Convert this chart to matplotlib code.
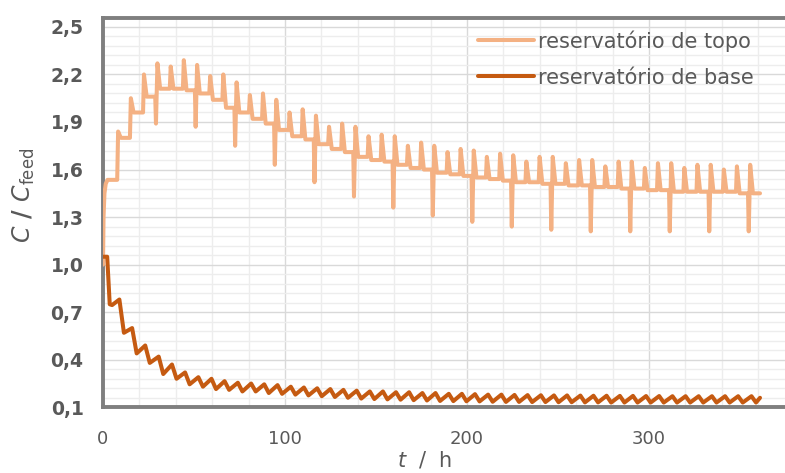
import matplotlib
matplotlib.use("Agg")
import matplotlib.pyplot as plt
from matplotlib.ticker import MultipleLocator, FixedLocator
import numpy as np

# ---------------- data ----------------
# times of the periodic feed events (h)
event_t = [8.0, 15.0, 22.2, 29.6, 36.9, 44.1, 51.4, 58.6, 65.8, 73.1,
           80.4, 87.6, 94.9, 102.2, 109.4, 116.7, 123.9, 131.1, 138.4, 145.6,
           152.8, 160.0, 167.2, 174.5, 181.7, 189.0, 196.2, 203.4, 210.6, 217.9,
           225.1, 232.3, 239.6, 246.8, 254.0, 261.3, 268.5, 275.7, 283.0, 290.2,
           297.4, 304.6, 311.9, 319.1, 326.3, 333.6, 340.8, 348.0, 355.3]

# top reservoir: spike peak and plateau after each event
top_peak = [1.84, 2.05, 2.20, 2.27, 2.25, 2.29, 2.26, 2.19, 2.20, 2.15,
            2.07, 2.08, 2.04, 1.96, 1.98, 1.94, 1.87, 1.89, 1.87, 1.81,
            1.82, 1.81, 1.75, 1.77, 1.75, 1.71, 1.73, 1.72, 1.68, 1.70,
            1.69, 1.65, 1.68, 1.68, 1.64, 1.66, 1.66, 1.62, 1.65, 1.65,
            1.61, 1.64, 1.64, 1.61, 1.63, 1.63, 1.60, 1.62, 1.63]
top_plateau = [1.80, 1.96, 2.06, 2.11, 2.11, 2.10, 2.08, 2.04, 1.99, 1.96,
               1.92, 1.89, 1.85, 1.81, 1.79, 1.76, 1.73, 1.71, 1.68, 1.66,
               1.65, 1.63, 1.61, 1.60, 1.58, 1.57, 1.56, 1.55, 1.54, 1.53,
               1.52, 1.52, 1.51, 1.51, 1.50, 1.50, 1.49, 1.49, 1.48, 1.48,
               1.47, 1.47, 1.46, 1.46, 1.46, 1.46, 1.46, 1.45, 1.45]
# downward dips just before every third event
dip_event = [3, 6, 9, 12, 15, 18, 21, 24, 27, 30, 33, 36, 39, 42, 45, 48]
dip_value = [1.89, 1.87, 1.75, 1.63, 1.52, 1.43, 1.36, 1.31, 1.27, 1.24,
             1.22, 1.21, 1.21, 1.21, 1.21, 1.21]
top_start_t = [0.0, 0.3, 0.8, 1.5, 2.5]
top_start_c = [1.00, 1.30, 1.45, 1.51, 1.535]
t_end = 361.0

# bottom reservoir: crest and trough of each oscillation
base_peak = [0.78, 0.60, 0.49, 0.42, 0.37, 0.32, 0.29, 0.28, 0.265, 0.255,
             0.25, 0.245, 0.24, 0.23, 0.225, 0.22, 0.215, 0.21, 0.205, 0.20,
             0.20, 0.195, 0.195, 0.19, 0.19, 0.185, 0.185, 0.183, 0.18, 0.18,
             0.178, 0.177, 0.176, 0.175, 0.175, 0.174, 0.173, 0.173, 0.172, 0.172,
             0.171, 0.171, 0.17, 0.17, 0.17, 0.17, 0.17, 0.17, 0.17]
base_trough = [0.57, 0.44, 0.38, 0.31, 0.28, 0.245, 0.23, 0.215, 0.21, 0.20,
               0.20, 0.19, 0.185, 0.18, 0.175, 0.17, 0.165, 0.16, 0.155, 0.152,
               0.15, 0.148, 0.145, 0.143, 0.14, 0.139, 0.138, 0.137, 0.135, 0.134,
               0.134, 0.133, 0.133, 0.132, 0.132, 0.131, 0.131, 0.13, 0.13, 0.13,
               0.13, 0.13, 0.13, 0.13, 0.13, 0.13, 0.13, 0.13, 0.13]
base_start_t = [0.0, 2.3, 3.7, 5.0]
base_start_c = [1.05, 1.05, 0.75, 0.745]
base_end_c = 0.16

yticks = [0.1, 0.4, 0.7, 1.0, 1.3, 1.6, 1.9, 2.2, 2.5]
ytick_labels = ["0,1", "0,4", "0,7", "1,0", "1,3", "1,6", "1,9", "2,2", "2,5"]
xticks = [0, 100, 200, 300]
legend_labels = ["reservatório de topo", "reservatório de base"]

# ---------------- build the polylines from the event lists ----------------
tt, cc = list(top_start_t), list(top_start_c)
prev = top_start_c[-1]
dips = dict(zip(dip_event, dip_value))
for k, te in enumerate(event_t):
    if k in dips:
        tt += [te - 0.9, te - 0.5]
        cc += [prev, dips[k]]
    else:
        tt += [te - 0.2]
        cc += [prev]
    tt += [te + 0.3, te + 1.8]
    cc += [top_peak[k], top_plateau[k]]
    prev = top_plateau[k]
tt.append(t_end)
cc.append(prev)

bt, bc = list(base_start_t), list(base_start_c)
for k, te in enumerate(event_t):
    bt += [te + 1.0, te + 3.5]
    bc += [base_peak[k], base_trough[k]]
bt.append(t_end)
bc.append(base_end_c)

# ---------------- figure ----------------
W, H = 785, 473
fig = plt.figure(figsize=(W / 100, H / 100), dpi=100)
x0, x1 = 103, 785
y_top, y_bot = 18.3, 407.3
ax = fig.add_axes([x0 / W, (H - y_bot) / H, (x1 - x0) / W, (y_bot - y_top) / H])

px_per_t = 1.82
px_per_c = 158.5
ax.set_xlim(0, (x1 - x0) / px_per_t)
ax.set_ylim(0.1, 0.1 + (y_bot - y_top) / px_per_c)

top_color = "#F4B183"
base_color = "#C55A11"
ax.plot(tt, cc, color=top_color, lw=2.9, solid_joinstyle="round",
        solid_capstyle="round", label=legend_labels[0], zorder=3)
ax.plot(bt, bc, color=base_color, lw=2.9, solid_joinstyle="round",
        solid_capstyle="round", label=legend_labels[1], zorder=4)

# grid
ax.xaxis.set_major_locator(FixedLocator(xticks))
ax.xaxis.set_minor_locator(MultipleLocator(20))
ax.yaxis.set_major_locator(FixedLocator(yticks))
ax.yaxis.set_minor_locator(FixedLocator(list(np.arange(0.1, 2.56, 0.06))))
ax.grid(which="major", color="#D9D9D9", lw=1.0, zorder=0)
ax.grid(which="minor", color="#EDEDED", lw=1.0, zorder=0)
ax.set_axisbelow(True)

ax.set_yticklabels(ytick_labels)
ax.tick_params(which="both", length=0)
ax.tick_params(axis="y", pad=14, labelsize=13.5, labelcolor="#595959")
ax.tick_params(axis="x", pad=16, labelsize=13, labelcolor="#595959")
for lab in ax.get_yticklabels():
    lab.set_fontweight("bold")

for side in ["left", "bottom", "top"]:
    ax.spines[side].set_color("#7F7F7F")
    ax.spines[side].set_linewidth(2.8)
ax.spines["right"].set_visible(False)

ax.set_ylabel(r"$C$ / $C_{\mathrm{feed}}$", fontsize=17, color="#595959",
              fontweight="bold")
ax.yaxis.set_label_coords(-(103 - 37) / (x1 - x0), (y_bot - 195) / (y_bot - y_top))
ax.set_xlabel(r"$t$  /  h", fontsize=15, color="#595959")
ax.xaxis.set_label_coords((425 - x0) / (x1 - x0), -(449 - y_bot) / (y_bot - y_top))

leg = ax.legend(loc="upper left",
                bbox_to_anchor=((478 - x0) / (x1 - x0), 1.0 - (30 - y_top) / (y_bot - y_top)),
                frameon=False, fontsize=15, handlelength=2.7, handletextpad=0.2,
                labelspacing=0.78, borderaxespad=0, borderpad=0)
for txt in leg.get_texts():
    txt.set_color("#595959")

fig.savefig("out.png", dpi=100)
